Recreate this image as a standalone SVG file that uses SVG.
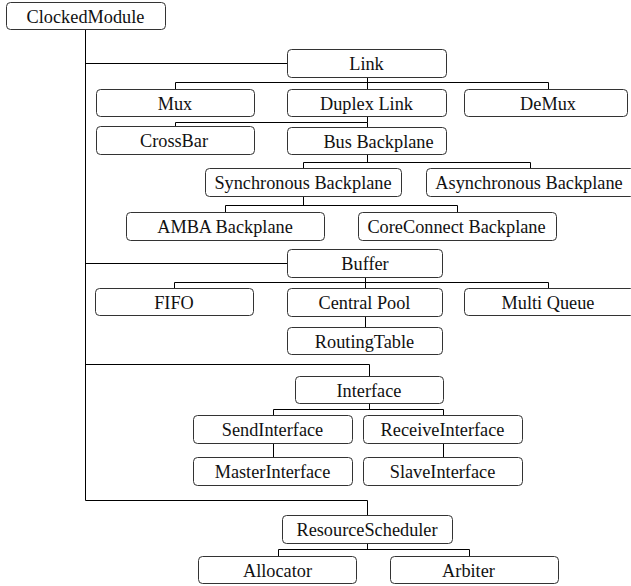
<svg xmlns="http://www.w3.org/2000/svg" width="631" height="586" viewBox="0 0 631 586">
<style>
.n rect{fill:#fff;stroke:#333;stroke-width:1}
.n text{font-family:'Liberation Serif','Times New Roman',serif;font-size:18.3px;fill:#111;text-anchor:middle}
.c path{fill:none;stroke:#000;stroke-width:1}
</style>
<rect width="631" height="586" fill="#fff"/>
<g class="c" id="connectors">
<path d="M85.5 29V500.5"/>
<path d="M85.5 63.5H287"/>
<path d="M85.5 263.5H287"/>
<path d="M85.5 364.5H369.5V376"/>
<path d="M85.5 500.5H367.5V515"/>
<path d="M367.5 77V82.5M175.5 89V82.5H548.5V89M367.5 82.5V89"/>
<path d="M367.5 116V122.5M175.5 126V122.5H367.5V127"/>
<path d="M367.5 154V162.5M303.5 168V162.5H530.5V168"/>
<path d="M303.5 196V205.5M225.5 212V205.5H457.5V212"/>
<path d="M365.5 277V282.5M174.5 288V282.5H548.5V288M365.5 282.5V288"/>
<path d="M365.5 316V327"/>
<path d="M369.5 403V409.5M273.5 415V409.5H443.5V415"/>
<path d="M273.5 443V457M443.5 443V457"/>
<path d="M367.5 543V549.5M278.5 556V549.5H469.5V556"/>
</g>
<g class="n" id="ClockedModule"><rect x="6.5" y="2.5" width="159" height="27" rx="4"/><text x="85.5" y="23">ClockedModule</text></g>
<g class="n" id="Link"><rect x="287.5" y="49.5" width="159" height="28" rx="4"/><text x="366.5" y="70">Link</text></g>
<g class="n" id="Mux"><rect x="96.5" y="89.5" width="158" height="27" rx="4"/><text x="175" y="110">Mux</text></g>
<g class="n" id="DuplexLink"><rect x="287.5" y="89.5" width="159" height="27" rx="4"/><text x="366.5" y="110">Duplex Link</text></g>
<g class="n" id="DeMux"><rect x="464.5" y="89.5" width="163" height="27" rx="4"/><text x="548" y="110">DeMux</text></g>
<g class="n" id="CrossBar"><rect x="96.5" y="126.5" width="158" height="28" rx="4"/><text x="174" y="147">CrossBar</text></g>
<g class="n" id="BusBackplane"><rect x="287.5" y="127.5" width="159" height="27" rx="4"/><text x="378.5" y="148">Bus Backplane</text></g>
<g class="n" id="SynchronousBackplane"><rect x="205.5" y="168.5" width="196" height="28" rx="4"/><text x="303" y="189">Synchronous Backplane</text></g>
<g class="n" id="AsynchronousBackplane"><rect x="426.5" y="168.5" width="208" height="28" rx="4"/><text x="529" y="189">Asynchronous Backplane</text></g>
<g class="n" id="AMBABackplane"><rect x="126.5" y="212.5" width="198" height="28" rx="4"/><text x="225" y="233">AMBA Backplane</text></g>
<g class="n" id="CoreConnectBackplane"><rect x="358.5" y="212.5" width="198" height="28" rx="4"/><text x="456.5" y="233">CoreConnect Backplane</text></g>
<g class="n" id="Buffer"><rect x="287.5" y="249.5" width="155" height="28" rx="4"/><text x="365" y="270">Buffer</text></g>
<g class="n" id="FIFO"><rect x="95.5" y="288.5" width="158" height="27" rx="4"/><text x="174" y="309">FIFO</text></g>
<g class="n" id="CentralPool"><rect x="287.5" y="288.5" width="155" height="28" rx="4"/><text x="364.5" y="309">Central Pool</text></g>
<g class="n" id="MultiQueue"><rect x="464.5" y="288.5" width="170" height="27" rx="4"/><text x="548" y="309">Multi Queue</text></g>
<g class="n" id="RoutingTable"><rect x="287.5" y="327.5" width="155" height="27" rx="4"/><text x="364.5" y="348">RoutingTable</text></g>
<g class="n" id="Interface"><rect x="295.5" y="376.5" width="148" height="27" rx="4"/><text x="369" y="397">Interface</text></g>
<g class="n" id="SendInterface"><rect x="193.5" y="415.5" width="159" height="28" rx="4"/><text x="272.5" y="436">SendInterface</text></g>
<g class="n" id="ReceiveInterface"><rect x="363.5" y="415.5" width="159" height="28" rx="4"/><text x="442.5" y="436">ReceiveInterface</text></g>
<g class="n" id="MasterInterface"><rect x="193.5" y="457.5" width="159" height="28" rx="4"/><text x="272.5" y="478">MasterInterface</text></g>
<g class="n" id="SlaveInterface"><rect x="363.5" y="457.5" width="159" height="28" rx="4"/><text x="442.5" y="478">SlaveInterface</text></g>
<g class="n" id="ResourceScheduler"><rect x="282.5" y="515.5" width="170" height="28" rx="4"/><text x="367" y="536">ResourceScheduler</text></g>
<g class="n" id="Allocator"><rect x="198.5" y="556.5" width="158" height="27" rx="4"/><text x="277.5" y="577">Allocator</text></g>
<g class="n" id="Arbiter"><rect x="390.5" y="556.5" width="168" height="27" rx="4"/><text x="468.5" y="577">Arbiter</text></g>
</svg>
